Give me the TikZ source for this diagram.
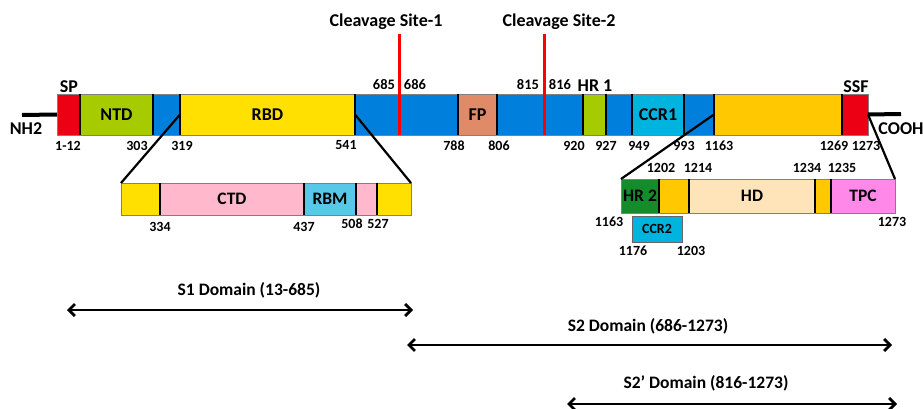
\documentclass[tikz,border=0pt]{standalone}
\usepackage{fontspec}
\setmainfont{Carlito}
\usetikzlibrary{arrows.meta}

% segment colours
\definecolor{spred}{RGB}{236,0,20}
\definecolor{lime}{RGB}{166,204,0}
\definecolor{sblue}{RGB}{0,128,220}
\definecolor{ryellow}{RGB}{255,224,0}
\definecolor{salmon}{RGB}{224,138,104}
\definecolor{cyanc}{RGB}{0,180,224}
\definecolor{orng}{RGB}{255,200,0}
\definecolor{pinkc}{RGB}{255,184,204}
\definecolor{rbmc}{RGB}{88,200,232}
\definecolor{dkgreen}{RGB}{20,140,44}
\definecolor{hdc}{RGB}{255,228,186}
\definecolor{tpcc}{RGB}{255,136,232}

\tikzset{
  seg/.style={inner sep=0pt, outer sep=0pt, draw=none, anchor=center},
  sepline/.style={line width=2.6pt, black},
  outline/.style={draw=black!50, line width=0.9pt},
  big/.style={font=\fontsize{18}{20}\selectfont\bfseries, inner sep=0pt},
  mid/.style={font=\fontsize{17.5}{19}\selectfont\bfseries, inner sep=0pt},
  numlo/.style={font=\fontsize{14}{15}\selectfont\bfseries, inner sep=0pt},
  numup/.style={font=\fontsize{14.5}{16}\selectfont\bfseries, inner sep=0pt},
  tail/.style={line width=4pt, black},
  zoomline/.style={line width=2.2pt, black},
  cleave/.style={line width=3pt, red},
  span/.style={line width=2.8pt, black, {Straight Barb[length=6pt,width=12pt]}-{Straight Barb[length=6pt,width=12pt]}},
}

% \segm{name}{x1}{x2}{y1}{y2}{fill}{label}
\newcommand\segm[7]{%
  \node[seg, fill=#6, minimum width={(#3-#2)*1pt}, minimum height={(#5-#4)*1pt}]
    (#1) at ({(#2+#3)/2},{(#4+#5)/2}) {#7};}

\begin{document}
\begin{tikzpicture}[x=1pt,y=-1pt]
\useasboundingbox (0,0) rectangle (923,409);

% ---------------- main spike protein bar ----------------
\begin{scope}[every node/.append style={big}]
\segm{sp}{57}{80}{94}{135}{spred}{}
\segm{ntd}{80}{153}{94}{135}{lime}{NTD}
\segm{b1}{153}{180}{94}{135}{sblue}{}
\segm{rbd}{180}{355}{94}{135}{ryellow}{RBD}
\segm{b2}{355}{458}{94}{135}{sblue}{}
\segm{fp}{458}{497}{94}{135}{salmon}{FP}
\segm{b3}{497}{583}{94}{135}{sblue}{}
\segm{hr1}{583}{606}{94}{135}{lime}{}
\segm{b4}{606}{632}{94}{135}{sblue}{}
\segm{ccr1}{632}{684}{94}{135}{cyanc}{CCR1}
\segm{b5}{684}{714}{94}{135}{sblue}{}
\segm{or1}{714}{842}{94}{135}{orng}{}
\segm{ssf}{842}{868}{94}{135}{spred}{}
\end{scope}
\draw[outline] (sp.north west) rectangle (ssf.south east);
\foreach \s in {sp,ntd,b1,rbd,b2,fp,b3,hr1,b4,ccr1,b5,or1}
  \draw[sepline] (\s.north east) -- (\s.south east);

% terminal tails
\coordinate (nhend) at (22,115);
\coordinate (coend) at (901,114);
\draw[tail] (nhend) -- (sp.west);
\draw[tail] (ssf.east) -- (coend);
\node[big] (nh2) at (26,129) {NH2};
\node[big] (cooh) at (901,129) {COOH};

% names above the bar
\node[big] (lsp) at (69,87) {SP};
\node[big] (lssf) at (856,87) {SSF};
\node[big] (lhr1) at (595,86) {HR 1};

% cleavage sites
\coordinate (c1t) at (399,34);
\coordinate (c2t) at (544,34);
\draw[cleave] (c1t) -- (c1t |- sp.south);
\draw[cleave] (c2t) -- (c2t |- sp.south);
\node[big] (cs1) at (386,22) {Cleavage Site-1};
\node[big] (cs2) at (559,22) {Cleavage Site-2};

% residue numbers
\foreach \t/\x [count=\i] in {685/384, 686/415, 815/528, 816/560}
  \node[numup] (up\i) at (\x,85) {\t};
\foreach \t/\x [count=\i] in {1-12/68, 303/137, 319/182, 541/346, 788/454,
    806/499, 920/574, 927/606, 949/639, 993/684, 1163/719, 1269/834, 1273/866}
  \node[numlo] (lo\i) at (\x,145.5) {\t};

% ---------------- RBD detail ----------------
\begin{scope}[every node/.append style={mid}]
\segm{ya}{121}{160}{183}{215}{ryellow}{}
\segm{ctd}{160}{304}{183}{215}{pinkc}{CTD}
\segm{rbm}{304}{356}{183}{215}{rbmc}{RBM}
\segm{pk}{356}{377}{183}{215}{pinkc}{}
\segm{yb}{377}{411}{183}{215}{ryellow}{}
\end{scope}
\draw[outline] (ya.north west) rectangle (yb.south east);
\foreach \s in {ya,ctd,rbm,pk}
  \draw[sepline] (\s.north east) -- (\s.south east);
\draw[zoomline] (rbd.west) -- (ya.north west);
\draw[zoomline] (rbd.east) -- (yb.north east);
\node[numlo] (r334) at (160,226.5) {334};
\node[numlo] (r437) at (304,226.5) {437};
\node[numlo] (r508) at (352,223.5) {508};
\node[numlo] (r527) at (378,223.5) {527};

% ---------------- C-terminal detail ----------------
\begin{scope}[every node/.append style={mid}]
\segm{hr2}{621}{659}{179}{213}{dkgreen}{HR 2}
\segm{oa}{659}{689}{179}{213}{orng}{}
\segm{hd}{689}{815}{179}{213}{hdc}{HD}
\segm{ob}{815}{831}{179}{213}{orng}{}
\segm{tpc}{831}{895}{179}{213}{tpcc}{TPC}
\end{scope}
\draw[outline] (hr2.north west) rectangle (tpc.south east);
\foreach \s in {hr2,oa,hd,ob}
  \draw[sepline] (\s.north east) -- (\s.south east);
\draw[zoomline] (b5.east) -- (hr2.north west);
\draw[zoomline] (ssf.east) -- (tpc.north east);
\node[seg, fill=cyanc, draw=black!60, line width=0.9pt, minimum width=50pt,
  minimum height=26pt, font=\fontsize{14}{16}\selectfont\bfseries] (ccr2) at (657,229) {CCR2};
\foreach \t/\x [count=\i] in {1202/661, 1214/698, 1234/807, 1235/842}
  \node[numlo] (hu\i) at (\x,168) {\t};
\node[numlo] (h1163) at (609,222) {1163};
\node[numlo] (h1273) at (892,222) {1273};
\node[numlo] (h1176) at (633,251) {1176};
\node[numlo] (h1203) at (691,251) {1203};

% ---------------- subunit spans ----------------
\coordinate (s1a) at (67,310);
\coordinate (s1b) at (413,310);
\coordinate (s2a) at (407,345);
\coordinate (s2b) at (892,345);
\coordinate (s3a) at (567,404);
\coordinate (s3b) at (897,404);
\draw[span] (s1a) -- (s1b);
\draw[span] (s2a) -- (s2b);
\draw[span] (s3a) -- (s3b);
\node[mid] (ls1) at (249,290) {S1 Domain (13-685)};
\node[mid] (ls2) at (648,326) {S2 Domain (686-1273)};
\node[mid] (ls3) at (706,383) {S2’ Domain (816-1273)};
\end{tikzpicture}
\end{document}
